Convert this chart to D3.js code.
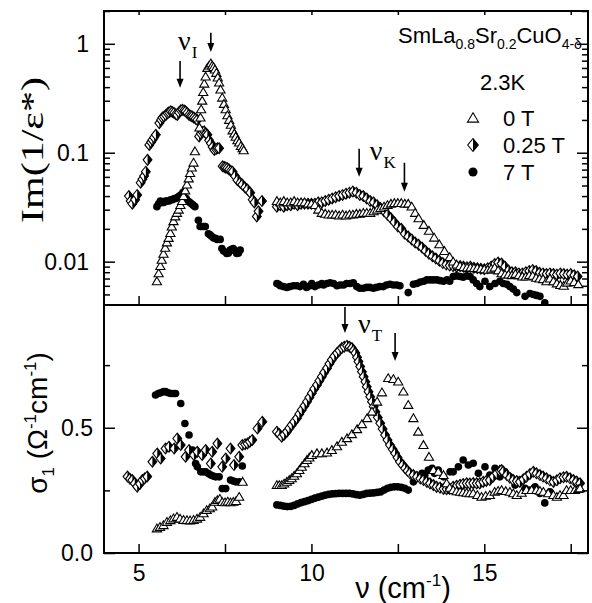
<!DOCTYPE html>
<html lang="en">
<head>
  <meta charset="UTF-8">
  <title>SmLa0.8Sr0.2CuO4-d loss function and conductivity</title>
  <style>
    body {
      margin: 0;
      background: #fff;
    }
    svg {
      display: block;
      font-family: "Liberation Sans", Arial, sans-serif;
    }
  </style>
</head>
<body>
  <svg id="chart" width="592" height="603"></svg>

  <script src="https://d3js.org/d3.v7.min.js"></script>
  <script>
    // ---- top panel, Im(1/eps*) (log scale) ----
    const lossT0 = [
      [5.53,0.0066],[5.58,0.0078],[5.63,0.0091],[5.67,0.0104],[5.72,0.0118],[5.77,0.0134],[5.82,0.015],[5.87,0.0165],
      [5.92,0.0183],[5.96,0.021],[6.01,0.0235],[6.06,0.026],[6.11,0.028],[6.16,0.030],[6.21,0.033],[6.26,0.036],
      [6.30,0.040],[6.35,0.045],[6.40,0.051],[6.45,0.058],[6.49,0.065],[6.54,0.073],[6.59,0.081],[6.63,0.103],
      [6.76,0.17],[6.79,0.21],[6.81,0.25],[6.84,0.30],[6.87,0.36],[6.90,0.43],[6.94,0.50],[6.99,0.60],[7.04,0.63],
      [7.09,0.66],[7.13,0.63],[7.17,0.61],[7.21,0.58],[7.25,0.54],[7.29,0.49],[7.33,0.44],[7.37,0.38],[7.42,0.32],
      [7.47,0.28],[7.52,0.25],[7.57,0.22],[7.62,0.20],[7.67,0.18],[7.72,0.16],[7.77,0.15],[7.81,0.14],[7.86,0.13],
      [7.91,0.124],[7.96,0.115],[8.01,0.11],[8.04,0.105],
      [9.0,0.036],[9.1,0.035],[9.2,0.036],[9.3,0.035],[9.4,0.035],[9.5,0.036],[9.6,0.035],[9.7,0.035],[9.8,0.035],
      [9.9,0.034],[10.0,0.034],[10.1,0.033],[10.2,0.030],[10.3,0.028],[10.4,0.0275],[10.5,0.027],[10.6,0.027],
      [10.7,0.027],[10.8,0.0265],[10.9,0.027],[11.0,0.0265],[11.1,0.027],[11.2,0.027],[11.3,0.0275],[11.4,0.0275],
      [11.5,0.028],[11.6,0.028],[11.7,0.028],[11.8,0.029],[11.9,0.030],[12.0,0.031],[12.1,0.032],[12.2,0.033],
      [12.3,0.034],[12.4,0.0345],[12.5,0.0345],[12.6,0.0345],[12.7,0.034],[12.8,0.034],[12.9,0.032],[13.0,0.028],
      [13.1,0.025],[13.25,0.0217],[13.4,0.0192],[13.55,0.0166],[13.7,0.0144],[13.85,0.0125],[14.0,0.011],
      [14.1,0.0100],[14.2,0.0094],[14.3,0.0091],[14.4,0.0089],[14.5,0.0088],[14.6,0.0088],[14.7,0.0087],
      [14.8,0.0087],[14.9,0.0086],[15.0,0.0085],[15.1,0.0084],[15.2,0.0086],[15.3,0.0088],[15.4,0.0083],
      [15.5,0.0078],[15.6,0.0076],[15.7,0.0076],[15.8,0.0075],[15.9,0.0077],[16.0,0.0075],[16.1,0.0073],
      [16.2,0.0073],[16.3,0.0075],[16.4,0.0074],[16.5,0.0071],[16.6,0.0070],[16.7,0.0069],[16.8,0.0066],
      [16.9,0.0070],[17.0,0.0066],[17.1,0.0063],[17.2,0.0061],[17.3,0.0060],[17.4,0.0064],[17.5,0.0067],
      [17.6,0.0065],[17.72,0.0062]
    ];
    const lossT025 = [
      [4.72,0.040],[4.77,0.036],[4.82,0.034],[4.90,0.037],[4.96,0.041],[5.06,0.053],[5.11,0.057],[5.16,0.061],
      [5.21,0.067],[5.26,0.086],[5.31,0.118],[5.36,0.125],[5.40,0.131],[5.45,0.138],[5.50,0.146],[5.60,0.187],
      [5.65,0.20],[5.69,0.21],[5.74,0.215],[5.79,0.222],[5.84,0.23],[5.88,0.235],[5.93,0.24],[5.98,0.236],
      [6.03,0.232],[6.08,0.226],[6.12,0.222],[6.17,0.235],[6.22,0.245],[6.27,0.248],[6.32,0.244],[6.36,0.24],
      [6.41,0.232],[6.46,0.222],[6.51,0.218],[6.55,0.215],[6.60,0.21],[6.65,0.205],[6.70,0.20],[6.75,0.141],
      [6.80,0.15],[6.85,0.155],[6.90,0.157],[6.95,0.15],[6.99,0.146],[7.04,0.13],[7.09,0.122],[7.14,0.113],
      [7.19,0.106],[7.24,0.108],[7.28,0.11],[7.33,0.11],[7.43,0.075],[7.48,0.074],[7.52,0.073],[7.57,0.072],
      [7.62,0.070],[7.67,0.068],[7.72,0.067],[7.79,0.061],[7.86,0.056],[7.94,0.053],[8.00,0.051],[8.08,0.048],
      [8.15,0.046],[8.23,0.043],[8.30,0.037],[8.35,0.035],[8.42,0.026],[8.47,0.029],[8.57,0.036],
      [9.0,0.032],[9.1,0.033],[9.2,0.032],[9.3,0.033],[9.4,0.033],[9.5,0.034],[9.6,0.033],[9.7,0.034],[9.8,0.034],
      [9.9,0.034],[10.0,0.034],[10.1,0.034],[10.2,0.035],[10.3,0.035],[10.4,0.036],[10.5,0.037],[10.6,0.038],
      [10.7,0.039],[10.8,0.040],[10.9,0.041],[11.0,0.042],[11.1,0.043],[11.2,0.044],[11.3,0.043],[11.4,0.041],
      [11.5,0.040],[11.6,0.038],[11.7,0.036],[11.8,0.035],[11.9,0.033],[12.0,0.031],[12.1,0.029],[12.2,0.027],
      [12.3,0.025],[12.4,0.023],[12.5,0.021],[12.6,0.020],[12.7,0.018],[12.8,0.017],[12.9,0.016],[13.0,0.015],
      [13.1,0.0143],[13.2,0.0135],[13.3,0.0126],[13.4,0.0118],[13.5,0.0112],[13.6,0.0107],[13.7,0.0102],
      [13.8,0.0097],[13.9,0.0094],[14.0,0.0092],[14.1,0.0091],[14.2,0.0090],[14.3,0.0091],[14.4,0.0090],
      [14.5,0.0089],[14.6,0.0090],[14.7,0.0088],[14.8,0.0087],[14.9,0.0086],[15.0,0.0085],[15.1,0.0087],
      [15.2,0.0090],[15.3,0.0095],[15.4,0.0098],[15.5,0.0096],[15.6,0.0090],[15.7,0.0083],[15.8,0.0080],
      [15.9,0.0080],[16.0,0.0078],[16.1,0.0078],[16.2,0.0080],[16.3,0.0082],[16.4,0.0084],[16.5,0.0082],
      [16.6,0.0079],[16.7,0.0078],[16.8,0.0077],[16.9,0.0078],[17.0,0.0077],[17.1,0.0076],[17.2,0.0078],
      [17.3,0.0077],[17.4,0.0076],[17.5,0.0077],[17.6,0.0075],[17.7,0.0073]
    ];
    const lossT7 = [
      [5.53,0.032],[5.58,0.034],[5.63,0.036],[5.68,0.035],[5.73,0.035],[5.78,0.036],[5.83,0.036],[5.88,0.036],
      [5.93,0.037],[5.98,0.037],[6.03,0.038],[6.08,0.038],[6.13,0.039],[6.18,0.040],[6.23,0.041],[6.28,0.043],
      [6.33,0.044],[6.38,0.038],[6.43,0.036],[6.48,0.035],[6.53,0.034],[6.58,0.033],[6.63,0.032],[6.73,0.024],
      [6.78,0.021],[6.83,0.021],[6.88,0.021],[6.93,0.021],[7.02,0.018],[7.07,0.0176],[7.12,0.017],[7.17,0.0165],
      [7.22,0.0164],[7.27,0.016],[7.36,0.016],[7.41,0.0132],[7.46,0.0125],[7.55,0.0119],[7.60,0.012],
      [7.65,0.0128],[7.70,0.013],[7.74,0.0132],[7.79,0.0125],[7.84,0.0119],[7.89,0.012],[7.94,0.0128],
      [9.0,0.0063],[9.05,0.0062],[9.1,0.0060],[9.19,0.0059],[9.29,0.0058],[9.38,0.0059],[9.48,0.0060],
      [9.58,0.0060],[9.67,0.0059],[9.77,0.0062],[9.86,0.0058],[9.96,0.0060],[10.01,0.0063],[10.1,0.0059],
      [10.2,0.0061],[10.3,0.0063],[10.35,0.0061],[10.45,0.0063],[10.54,0.0064],[10.64,0.0063],[10.74,0.0060],
      [10.83,0.0061],[10.93,0.0061],[11.02,0.0063],[11.12,0.0063],[11.21,0.0064],[11.31,0.0059],[11.4,0.0057],
      [11.5,0.0057],[11.6,0.0058],[11.69,0.0058],[11.79,0.0057],[11.88,0.0058],[11.98,0.0059],[12.08,0.0059],
      [12.17,0.0061],[12.27,0.0062],[12.37,0.0061],[12.47,0.0061],[12.56,0.0060],[12.8,0.0052],[12.95,0.0062],
      [13.05,0.0063],[13.15,0.0065],[13.25,0.0066],[13.34,0.0068],[13.44,0.0068],[13.53,0.0068],[13.63,0.0068],
      [13.72,0.0067],[13.82,0.0066],[13.92,0.0068],[14.0,0.0066],[14.1,0.0073],[14.2,0.0074],[14.3,0.0073],
      [14.39,0.0072],[14.49,0.0074],[14.59,0.0073],[14.68,0.0068],[14.78,0.0063],[14.87,0.0059],[15.02,0.0066],
      [15.16,0.0059],[15.31,0.0063],[15.45,0.0066],[15.55,0.0063],[15.65,0.0062],[15.74,0.0059],[15.84,0.0056],
      [15.94,0.0052],[16.18,0.0048],[16.32,0.0051],[16.42,0.0050],[16.51,0.0049],[16.61,0.0048],[16.75,0.0042]
    ];

    // ---- bottom panel, sigma1 ----
    const sigmaT0 = [
      [5.53,0.098],[5.62,0.104],[5.72,0.111],[5.82,0.124],[5.92,0.131],[6.01,0.138],[6.11,0.144],[6.20,0.137],
      [6.30,0.132],[6.40,0.131],[6.49,0.130],[6.59,0.132],[6.69,0.137],[6.78,0.144],[6.88,0.158],[6.97,0.171],
      [7.06,0.178],[7.13,0.185],[7.21,0.204],[7.28,0.211],[7.35,0.216],[7.42,0.203],[7.50,0.202],[7.58,0.205],
      [7.66,0.202],[7.74,0.204],[7.82,0.207],[7.91,0.224],[8.01,0.284],
      [9.0,0.271],[9.07,0.271],[9.14,0.271],[9.21,0.277],[9.29,0.284],[9.36,0.291],[9.43,0.298],[9.5,0.308],
      [9.58,0.318],[9.65,0.331],[9.72,0.344],[9.8,0.358],[9.87,0.371],[9.94,0.381],[10.01,0.391],[10.16,0.398],
      [10.3,0.398],[10.45,0.401],[10.59,0.411],[10.74,0.426],[10.88,0.444],[11.03,0.458],[11.17,0.474],
      [11.32,0.494],[11.46,0.514],[11.61,0.538],[11.75,0.564],[11.9,0.604],[12.04,0.641],[12.22,0.698],
      [12.37,0.694],[12.51,0.684],[12.66,0.644],[12.8,0.591],[12.95,0.538],[13.09,0.484],[13.24,0.431],
      [13.4,0.384],[13.53,0.331],[13.67,0.324],[13.82,0.311],[13.91,0.278],[14.0,0.26],[14.1,0.251],[14.2,0.246],
      [14.3,0.244],[14.39,0.242],[14.49,0.24],[14.58,0.238],[14.68,0.238],[14.8,0.231],[14.92,0.224],
      [15.04,0.228],[15.16,0.231],[15.3,0.244],[15.4,0.248],[15.5,0.251],[15.62,0.247],[15.74,0.244],
      [15.84,0.238],[15.94,0.231],[16.08,0.24],[16.22,0.251],[16.37,0.251],[16.51,0.251],[16.61,0.248],
      [16.71,0.244],[16.85,0.238],[17.0,0.231],[17.1,0.224],[17.19,0.231],[17.29,0.231],[17.38,0.251],
      [17.5,0.251],[17.62,0.251],[17.72,0.255],[17.77,0.258]
    ];
    const sigmaT025 = [
      [4.68,0.305],[4.75,0.296],[4.82,0.291],[4.89,0.278],[4.96,0.265],[5.04,0.276],[5.11,0.291],[5.18,0.298],
      [5.25,0.305],[5.40,0.364],[5.54,0.397],[5.64,0.377],[5.78,0.417],[5.88,0.424],[6.03,0.417],[6.12,0.457],
      [6.22,0.431],[6.36,0.384],[6.46,0.411],[6.60,0.391],[6.70,0.404],[6.84,0.391],[6.94,0.411],[7.09,0.357],
      [7.13,0.404],[7.28,0.437],[7.42,0.344],[7.52,0.377],[7.66,0.417],[7.76,0.351],[7.91,0.384],[8.00,0.431],
      [8.08,0.434],[8.15,0.437],[8.22,0.444],[8.29,0.451],[8.44,0.497],[8.58,0.524],
      [9.0,0.484],[9.07,0.475],[9.14,0.464],[9.21,0.472],[9.29,0.484],[9.36,0.498],[9.43,0.511],[9.5,0.524],
      [9.58,0.538],[9.65,0.555],[9.72,0.571],[9.8,0.588],[9.87,0.604],[9.94,0.621],[10.01,0.638],[10.08,0.655],
      [10.16,0.671],[10.23,0.688],[10.3,0.704],[10.37,0.721],[10.45,0.738],[10.52,0.755],[10.59,0.771],
      [10.66,0.785],[10.74,0.798],[10.81,0.808],[10.88,0.818],[10.95,0.823],[11.03,0.827],[11.1,0.823],
      [11.17,0.818],[11.22,0.808],[11.27,0.798],[11.32,0.781],[11.36,0.764],[11.41,0.744],[11.46,0.724],
      [11.51,0.704],[11.56,0.684],[11.6,0.664],[11.65,0.644],[11.7,0.624],[11.75,0.604],[11.8,0.584],
      [11.85,0.564],[11.92,0.541],[11.99,0.518],[12.06,0.495],[12.13,0.471],[12.2,0.451],[12.27,0.431],
      [12.35,0.414],[12.42,0.398],[12.49,0.381],[12.56,0.364],[12.64,0.351],[12.71,0.338],[12.78,0.328],
      [12.85,0.318],[12.95,0.311],[13.05,0.304],[13.15,0.297],[13.24,0.291],[13.34,0.284],[13.43,0.278],
      [13.53,0.271],[13.62,0.264],[13.72,0.261],[13.82,0.256],[13.91,0.255],[14.0,0.256],[14.1,0.264],
      [14.2,0.268],[14.3,0.272],[14.39,0.275],[14.49,0.278],[14.58,0.277],[14.68,0.279],[14.78,0.278],
      [14.87,0.278],[14.97,0.284],[15.06,0.288],[15.16,0.291],[15.26,0.305],[15.36,0.318],[15.45,0.328],
      [15.5,0.331],[15.55,0.325],[15.65,0.311],[15.74,0.30],[15.84,0.291],[15.94,0.287],[16.03,0.284],
      [16.13,0.294],[16.22,0.304],[16.32,0.315],[16.42,0.324],[16.51,0.318],[16.61,0.311],[16.7,0.305],
      [16.8,0.298],[16.9,0.29],[17.0,0.284],[17.1,0.29],[17.19,0.298],[17.29,0.302],[17.38,0.304],[17.48,0.298],
      [17.58,0.291],[17.67,0.285],[17.77,0.278]
    ];
    const sigmaT7 = [
      [5.49,0.631],[5.57,0.637],[5.64,0.640],[5.72,0.644],[5.78,0.644],[5.86,0.640],[5.93,0.637],[6.01,0.637],
      [6.07,0.637],[6.22,0.597],[6.34,0.517],[6.46,0.471],[6.56,0.411],[6.65,0.357],[6.70,0.344],[6.80,0.324],
      [6.87,0.324],[6.94,0.324],[7.02,0.317],[7.09,0.311],[7.16,0.307],[7.23,0.304],[7.33,0.304],[7.42,0.257],
      [7.52,0.257],[7.66,0.291],[7.74,0.287],[7.81,0.284],[7.91,0.284],[8.00,0.347],
      [9.0,0.192],[9.1,0.190],[9.2,0.187],[9.3,0.185],[9.4,0.186],[9.5,0.190],[9.6,0.196],[9.7,0.201],
      [9.8,0.205],[9.9,0.209],[10.0,0.214],[10.1,0.219],[10.2,0.223],[10.3,0.227],[10.4,0.231],[10.5,0.234],
      [10.6,0.236],[10.7,0.237],[10.8,0.238],[10.9,0.238],[11.0,0.238],[11.1,0.238],[11.2,0.236],[11.3,0.233],
      [11.4,0.231],[11.5,0.234],[11.6,0.238],[11.7,0.239],[11.8,0.240],[11.9,0.242],[12.0,0.244],[12.1,0.251],
      [12.2,0.258],[12.3,0.262],[12.4,0.264],[12.5,0.264],[12.6,0.262],[12.7,0.258],[12.8,0.251],
      [12.95,0.284],[13.05,0.304],[13.2,0.318],[13.28,0.311],[13.38,0.331],[13.49,0.338],[13.56,0.318],
      [13.67,0.331],[13.82,0.304],[14.01,0.324],[14.1,0.324],[14.25,0.344],[14.39,0.371],[14.54,0.351],
      [14.68,0.358],[14.83,0.318],[15.02,0.344],[15.16,0.311],[15.31,0.338],[15.45,0.304],[15.6,0.324],
      [15.74,0.304],[15.89,0.271],[16.03,0.291],[16.18,0.258],[16.32,0.251],[16.47,0.264],[16.61,0.238],
      [16.75,0.200],[16.9,0.244]
    ];

    // ticks
    const xMajor = [5, 10, 15];
    const xMinor = [7.5, 12.5, 17.5];
    const xLabels = ["5", "10", "15"];
    const lossMajor = [0.01, 0.1, 1];
    const lossLabels = ["0.01", "0.1", "1"];
    const lossMinor = [0.005, 0.006, 0.007, 0.008, 0.009, 0.02, 0.03, 0.04, 0.05, 0.06, 0.07, 0.08, 0.09,
                       0.2, 0.3, 0.4, 0.5, 0.6, 0.7, 0.8, 0.9, 2];
    const sigmaMajor = [0, 0.5];
    const sigmaLabels = ["0.0", "0.5"];
    const sigmaMinor = [0.25, 0.75];

    // legend
    const legendNames = ["0 T", "0.25 T", "7 T"];
    const legendKinds = ["tri", "dia", "dot"];

    // annotation arrows [x, yStart, yEnd] and nu labels [x, y, subscript]
    const lossArrows = [[6.2, 0.696, 0.394], [7.09, 1.26, 0.84], [11.38, 0.109, 0.0602], [12.69, 0.0809, 0.0439]];
    const sigmaArrows = [[10.97, 0.982, 0.878], [12.42, 0.878, 0.766]];
    const lossNu = [[6.14, 0.877, "I"], [11.69, 0.0862, "K"]];
    const sigmaNu = [[11.35, 0.878, "T"]];

    const svg = d3.select("#chart");
    const pLeft = 104, pRight = 588, pTop = 11, pMid = 305, pBottom = 553;

    const x = d3.scaleLinear().domain([4, 18]).range([pLeft, pRight]);
    const yLoss = d3.scaleLog().domain([0.004, 2]).range([pMid, pTop]);
    const ySigma = d3.scaleLinear().domain([0, 0.99]).range([pBottom, pMid]);

    const sans = '"Liberation Sans", Arial, sans-serif';
    const serif = '"Liberation Serif", "Times New Roman", serif';

    // clip paths
    const defs = svg.append("defs");
    defs.append("clipPath").attr("id", "clipTop").append("rect")
      .attr("x", pLeft).attr("y", pTop).attr("width", pRight - pLeft).attr("height", pMid - pTop);
    defs.append("clipPath").attr("id", "clipBot").append("rect")
      .attr("x", pLeft).attr("y", pMid).attr("width", pRight - pLeft).attr("height", pBottom - pMid);

    // markers
    function marker(sel, kind, s) {
      if (kind === "tri") {
        sel.append("path")
          .attr("d", `M0,${-4.4 * s}L${4.6 * s},${3.4 * s}L${-4.6 * s},${3.4 * s}Z`)
          .attr("fill", "#fff").attr("stroke", "#000").attr("stroke-width", 1.1);
      } else if (kind === "dia") {
        sel.append("path")
          .attr("d", `M0,${-5.4 * s}L${4.4 * s},0L0,${5.4 * s}L${-4.4 * s},0Z`)
          .attr("fill", "#fff").attr("stroke", "#000").attr("stroke-width", 1.1);
        sel.append("path")
          .attr("d", `M0,${-5.4 * s}L${4.4 * s},0L0,${5.4 * s}Z`)
          .attr("fill", "#000");
      } else {
        sel.append("circle").attr("r", 3.8 * s).attr("fill", "#000");
      }
    }

    function drawSeries(clipId, data, yScale, kind) {
      svg.append("g").attr("clip-path", `url(#${clipId})`)
        .selectAll("g")
        .data(data)
        .join("g")
        .attr("transform", d => `translate(${x(d[0])},${yScale(d[1])})`)
        .each(function () { marker(d3.select(this), kind, 1); });
    }

    drawSeries("clipTop", lossT7, yLoss, "dot");
    drawSeries("clipTop", lossT025, yLoss, "dia");
    drawSeries("clipTop", lossT0, yLoss, "tri");
    drawSeries("clipBot", sigmaT7, ySigma, "dot");
    drawSeries("clipBot", sigmaT025, ySigma, "dia");
    drawSeries("clipBot", sigmaT0, ySigma, "tri");

    // frames
    svg.append("rect").attr("x", pLeft).attr("y", pTop).attr("width", pRight - pLeft).attr("height", pMid - pTop)
      .attr("fill", "none").attr("stroke", "#000").attr("stroke-width", 2);
    svg.append("rect").attr("x", pLeft).attr("y", pMid).attr("width", pRight - pLeft).attr("height", pBottom - pMid)
      .attr("fill", "none").attr("stroke", "#000").attr("stroke-width", 2);

    function styleAxis(g) {
      g.select(".domain").remove();
      g.selectAll("line").attr("stroke", "#000").attr("stroke-width", 1.5);
      g.attr("font-family", sans).attr("font-size", 23);
      g.selectAll("text").attr("fill", "#000");
    }

    function yAxes(scale, major, labels, minor, pad) {
      svg.append("g").attr("transform", `translate(${pLeft},0)`)
        .call(d3.axisLeft(scale).tickValues(major).tickSize(-11).tickPadding(pad).tickFormat((d, i) => labels[i]))
        .call(styleAxis);
      svg.append("g").attr("transform", `translate(${pLeft},0)`)
        .call(d3.axisLeft(scale).tickValues(minor).tickSize(-6).tickFormat(""))
        .call(styleAxis);
      svg.append("g").attr("transform", `translate(${pRight},0)`)
        .call(d3.axisRight(scale).tickValues(major).tickSize(-11).tickFormat(""))
        .call(styleAxis);
      svg.append("g").attr("transform", `translate(${pRight},0)`)
        .call(d3.axisRight(scale).tickValues(minor).tickSize(-6).tickFormat(""))
        .call(styleAxis);
    }
    yAxes(yLoss, lossMajor, lossLabels, lossMinor, 15);
    yAxes(ySigma, sigmaMajor, sigmaLabels, sigmaMinor, 11);

    const xAll = xMajor.concat(xMinor);
    svg.append("g").attr("transform", `translate(0,${pTop})`)
      .call(d3.axisTop(x).tickValues(xAll).tickSize(-4).tickFormat(""))
      .call(styleAxis);
    svg.append("g").attr("transform", `translate(0,${pMid})`)
      .call(d3.axisBottom(x).tickValues(xAll).tickSize(-9).tickFormat(""))
      .call(styleAxis);
    svg.append("g").attr("transform", `translate(0,${pBottom})`)
      .call(d3.axisBottom(x).tickValues(xMajor).tickSize(-9).tickPadding(12).tickFormat((d, i) => xLabels[i]))
      .call(styleAxis);
    svg.append("g").attr("transform", `translate(0,${pBottom})`)
      .call(d3.axisBottom(x).tickValues(xMinor).tickSize(-9).tickFormat(""))
      .call(styleAxis);

    // axis titles
    svg.append("text")
      .attr("transform", "translate(43,150) rotate(-90)")
      .attr("text-anchor", "middle")
      .attr("font-family", serif)
      .attr("font-size", 32)
      .attr("textLength", 146)
      .attr("lengthAdjust", "spacingAndGlyphs")
      .text("Im(1/\u03b5*)");

    const sigLab = svg.append("text")
      .attr("transform", "translate(47,423) rotate(-90)")
      .attr("text-anchor", "middle")
      .attr("font-family", sans)
      .attr("font-size", 28);
    sigLab.append("tspan").text("\u03c3");
    sigLab.append("tspan").attr("font-size", 17).attr("dy", 7).text("1");
    sigLab.append("tspan").attr("dy", -7).text(" (\u03a9");
    sigLab.append("tspan").attr("font-size", 17).attr("dy", -11).text("-1");
    sigLab.append("tspan").attr("dy", 11).text("cm");
    sigLab.append("tspan").attr("font-size", 17).attr("dy", -11).text("-1");
    sigLab.append("tspan").attr("dy", 11).text(")");

    const xLab = svg.append("text")
      .attr("x", 403).attr("y", 598)
      .attr("text-anchor", "middle")
      .attr("font-family", sans)
      .attr("font-size", 29);
    xLab.append("tspan").text("\u03bd (cm");
    xLab.append("tspan").attr("font-size", 17).attr("dy", -12).text("-1");
    xLab.append("tspan").attr("dy", 12).text(")");

    // arrows
    function arrows(list, yScale) {
      list.forEach(a => {
        const ax = x(a[0]), y0 = yScale(a[1]), y1 = yScale(a[2]);
        svg.append("line").attr("x1", ax).attr("x2", ax).attr("y1", y0).attr("y2", y1 - 6)
          .attr("stroke", "#000").attr("stroke-width", 1.6);
        svg.append("path").attr("d", `M${ax - 3.5},${y1 - 9}L${ax + 3.5},${y1 - 9}L${ax},${y1}Z`).attr("fill", "#000");
      });
    }
    arrows(lossArrows, yLoss);
    arrows(sigmaArrows, ySigma);

    function nuLabels(list, yScale) {
      list.forEach(n => {
        const t = svg.append("text")
          .attr("x", x(n[0])).attr("y", yScale(n[1]))
          .attr("font-family", serif).attr("font-size", 28);
        t.append("tspan").text("\u03bd");
        t.append("tspan").attr("font-size", 17).attr("dx", 1).attr("dy", 8).text(n[2]);
      });
    }
    nuLabels(lossNu, yLoss);
    nuLabels(sigmaNu, ySigma);

    // legend block
    const formula = svg.append("text").attr("x", 398).attr("y", 43)
      .attr("font-family", sans).attr("font-size", 22);
    formula.append("tspan").text("SmLa");
    formula.append("tspan").attr("font-size", 14).attr("dy", 6).text("0.8");
    formula.append("tspan").attr("dy", -6).text("Sr");
    formula.append("tspan").attr("font-size", 14).attr("dy", 6).text("0.2");
    formula.append("tspan").attr("dy", -6).text("CuO");
    formula.append("tspan").attr("font-size", 14).attr("dy", 6).text("4-\u03b4");

    svg.append("text").attr("x", 480).attr("y", 90)
      .attr("font-family", sans).attr("font-size", 22).text("2.3K");

    const legend = svg.append("g").attr("transform", "translate(473,118)");
    legendNames.forEach((name, i) => {
      const row = legend.append("g").attr("transform", `translate(0,${i * 27})`);
      marker(row.append("g"), legendKinds[i], 1.2);
      row.append("text").attr("x", 30).attr("y", 0).attr("dy", "0.36em")
        .attr("font-family", sans).attr("font-size", 22).text(name);
    });
  </script>
</body>
</html>
